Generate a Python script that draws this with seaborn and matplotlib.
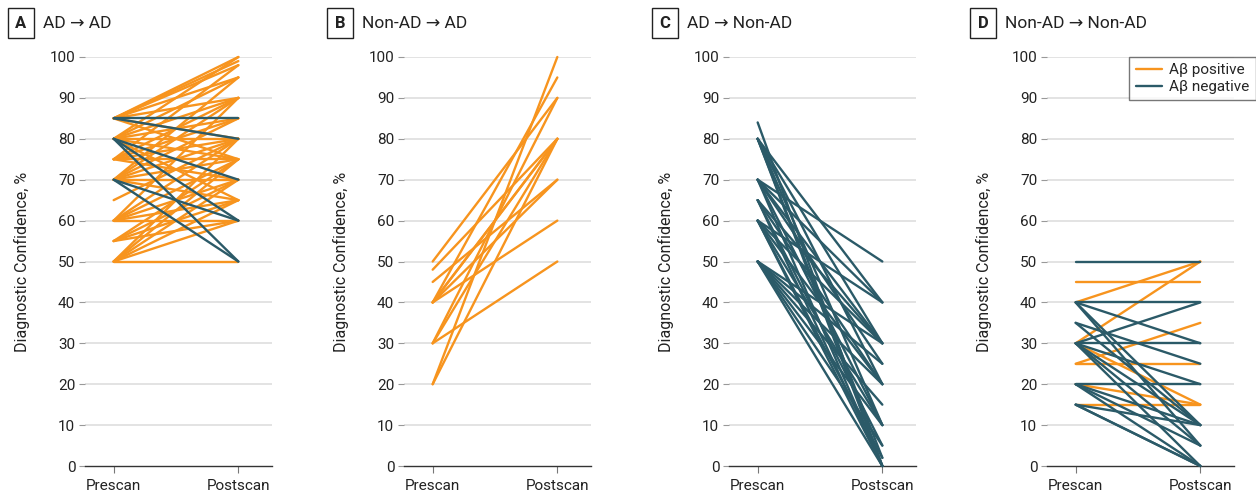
import matplotlib
matplotlib.use("Agg")
import matplotlib.pyplot as plt
from matplotlib.lines import Line2D
import seaborn as sns
import pandas as pd

# ---------------- data ----------------
panel_titles = ["AD \u2192 AD", "Non-AD \u2192 AD", "AD \u2192 Non-AD", "Non-AD \u2192 Non-AD"]
panel_letters = ["A", "B", "C", "D"]
time_labels = ["Prescan", "Postscan"]
status_labels = ["A\u03b2 positive", "A\u03b2 negative"]

# Panel A: AD -> AD
a_pre = [85, 85, 85, 85, 85, 85, 85,
         80, 80, 80, 80, 80, 80, 80,
         75, 75, 75, 75, 75, 75,
         70, 70, 70, 70, 70, 70, 70,
         65,
         60, 60, 60, 60, 60, 60,
         55, 55, 55, 55,
         50, 50, 50, 50, 50, 50,
         85, 85, 80, 80, 80, 70, 70]
a_post = [100, 99, 98, 95, 90, 80, 75,
          100, 95, 90, 85, 80, 75, 65,
          98, 90, 85, 80, 75, 70,
          95, 90, 85, 80, 75, 70, 65,
          80,
          90, 80, 75, 70, 65, 60,
          75, 70, 65, 60,
          50, 80, 75, 70, 65, 60,
          85, 80, 70, 60, 50, 60, 50]
a_stat = [0] * 44 + [1] * 7

# Panel B: Non-AD -> AD
b_pre = [50, 48, 45, 40, 40, 40, 40, 40, 30, 30, 30, 20, 20]
b_post = [90, 80, 70, 60, 70, 80, 95, 80, 50, 80, 90, 100, 80]
b_stat = [0] * 13

# Panel C: AD -> Non-AD
c_pre = [84, 80, 80, 80, 80, 80, 80,
         70, 70, 70, 70, 70, 70,
         65, 65, 65, 65,
         60, 60, 60, 60, 60, 60,
         50, 50, 50, 50, 50, 50, 50]
c_post = [0, 40, 30, 20, 10, 2, 0,
          50, 40, 30, 25, 10, 0,
          30, 20, 5, 0,
          40, 30, 20, 10, 2, 0,
          30, 25, 20, 15, 10, 5, 0]
c_stat = [1] * 30

# Panel D: Non-AD -> Non-AD
d_pre = [45, 40, 30, 25, 25, 30, 20, 15,
         50, 40, 40, 40, 40, 35, 35, 30, 30, 30, 30, 30, 30, 20, 20, 20, 20, 15, 15, 15]
d_post = [45, 50, 50, 35, 25, 15, 15, 15,
          50, 40, 30, 10, 5, 25, 10, 30, 40, 20, 10, 5, 0, 20, 10, 0, 5, 10, 0, 0]
d_stat = [0] * 8 + [1] * 20

panels = [(a_pre, a_post, a_stat), (b_pre, b_post, b_stat),
          (c_pre, c_post, c_stat), (d_pre, d_post, d_stat)]

y_ticks = list(range(0, 101, 10))

ORANGE = "#F7941E"
TEAL = "#2B5A68"
palette = {status_labels[0]: ORANGE, status_labels[1]: TEAL}

# ---------------- figure ----------------
sns.set_theme(style="white")
plt.rcParams["font.family"] = ["Roboto", "DejaVu Sans"]

W, H = 1256, 494
fig = plt.figure(figsize=(W / 100, H / 100), dpi=100)

lefts = [85, 404, 729, 1047]
ax_w = 187
top_px, bot_px = 57, 466

for i, (pre, post, stat) in enumerate(panels):
    rows = []
    for k, (p, q, s) in enumerate(zip(pre, post, stat)):
        rows.append({"id": k, "t": 0, "value": p, "status": status_labels[s]})
        rows.append({"id": k, "t": 1, "value": q, "status": status_labels[s]})
    df = pd.DataFrame(rows)

    ax = fig.add_axes([lefts[i] / W, 1 - bot_px / H, ax_w / W, (bot_px - top_px) / H])
    for yv in y_ticks[1:]:
        ax.axhline(yv, color="#DEDEDE", lw=1.2, zorder=0)
    sns.lineplot(data=df, x="t", y="value", hue="status", units="id", estimator=None,
                 palette=palette, hue_order=status_labels, lw=1.7, ax=ax,
                 legend=False, clip_on=False, zorder=3)
    ax.set_xlim(-0.23, 1.27)
    ax.set_ylim(0, 100)
    ax.set_yticks(y_ticks)
    ax.set_yticklabels([str(v) for v in y_ticks], fontsize=11, color="#222222")
    ax.set_xticks([0, 1])
    ax.set_xticklabels(time_labels, fontsize=11, color="#222222")
    ax.set_xlabel("")
    ax.set_ylabel("Diagnostic Confidence, %", fontsize=11.5, color="#222222", labelpad=14)
    for side in ["top", "right", "left"]:
        ax.spines[side].set_visible(False)
    ax.spines["bottom"].set_color("#333333")
    ax.spines["bottom"].set_linewidth(1.0)
    ax.tick_params(axis="y", which="both", left=True, length=4, width=0.8, color="#999999", pad=3)
    ax.tick_params(axis="x", which="both", bottom=True, length=5, width=0.8, color="#777777", pad=4)

    # panel title with boxed letter
    lx = (lefts[i] - 64) / W
    fig.text(lx, 1 - 23 / H, panel_letters[i], fontsize=12, fontweight="bold",
             ha="center", va="center", color="#222222",
             bbox=dict(boxstyle="square,pad=0.45", fc="white", ec="#222222", lw=1.0))
    fig.text(lx + 22 / W, 1 - 23 / H, panel_titles[i], fontsize=12.5, ha="left",
             va="center", color="#222222")

    if i == 3:
        handles = [Line2D([0], [0], color=ORANGE, lw=1.7), Line2D([0], [0], color=TEAL, lw=1.7)]
        leg = ax.legend(handles, status_labels, loc="upper right", bbox_to_anchor=(1.115, 1.0),
                        fontsize=11, frameon=True, fancybox=False, handlelength=1.7,
                        handletextpad=0.5, borderpad=0.4, labelspacing=0.2, borderaxespad=0.0)
        leg.get_frame().set_edgecolor("#555555")
        leg.get_frame().set_linewidth(1.0)

fig.savefig("out.png", dpi=100)
